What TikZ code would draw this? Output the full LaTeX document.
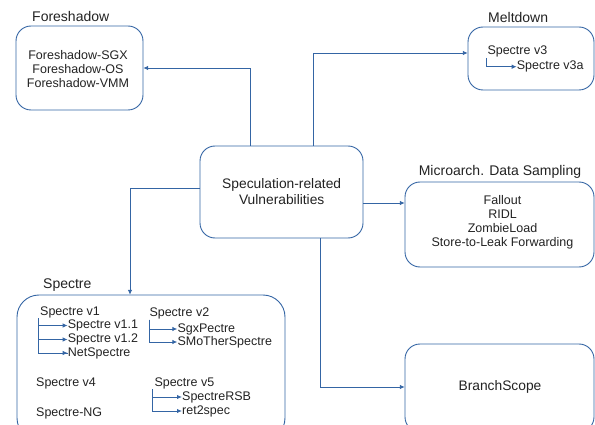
\documentclass[tikz,border=0pt]{standalone}
\usepackage{fontspec}
\setmainfont{Liberation Sans}
\usetikzlibrary{arrows.meta,positioning,calc}
\definecolor{lb}{RGB}{52,101,164}
\definecolor{tx}{RGB}{34,34,34}
\tikzset{
  box/.style={draw=lb, line width=0.9pt, rounded corners=15pt, inner sep=0pt},
  arr/.style={draw=lb, line width=0.9pt, -{Latex[length=5pt,width=4.5pt]}},
  tline/.style={draw=lb, line width=0.9pt},
  txt/.style={text=tx, inner sep=0pt, font=\fontsize{12.5}{14}\selectfont},
  big/.style={text=tx, inner sep=0pt, font=\fontsize{13.8}{16}\selectfont},
  lbl/.style={text=tx, inner sep=0pt, font=\fontsize{14}{16}\selectfont},
}
\begin{document}
\begin{tikzpicture}[x=1pt,y=-1pt]
\useasboundingbox (0,0) rectangle (595,425);
\clip (0,0) rectangle (595,425);
% boxes
\draw[box] (16,26) rectangle (143,110);
\node (fs) at (79.5,68) [minimum width=127pt, minimum height=84pt] {};
\draw[box] (468,27) rectangle (594,90);
\node (md) at (531,58.5) [minimum width=126pt, minimum height=63pt] {};
\draw[box] (200,146) rectangle (363,238);
\node (c) at (281.5,192) [minimum width=163pt, minimum height=92pt] {};
\draw[box] (405,182) rectangle (594,267);
\node (mds) at (499.5,224.5) [minimum width=189pt, minimum height=85pt] {};
\draw[box] (405,344) rectangle (594,432);
\node (bs) at (499.5,388) [minimum width=189pt, minimum height=88pt] {};
\draw[box, rounded corners=22pt] (17,295) rectangle (285,440);
\node (sp) at (151,367.5) [minimum width=268pt, minimum height=145pt] {};
% labels
\node[lbl, anchor=west] (lfs) at (32,16) {Foreshadow};
\node[lbl, anchor=west] (lmd) at (488,17) {Meltdown};
\node[lbl] (lmds) at (500,172) {Microarch. Data Sampling};
\node[lbl, anchor=west] (lsp) at (43,285) {Spectre};
% contents
\node[big, align=center] (ct) at (281.7,192) {Speculation-related\\Vulnerabilities};
\node[txt, align=center] (fst) at (78,69) {Foreshadow-SGX\\Foreshadow-OS\\Foreshadow-VMM};
\node[txt, align=center] (mdst) at (502.5,222) {Fallout\\RIDL\\ZombieLoad\\Store-to-Leak Forwarding};
\node[big] (bst) at (500,387) {BranchScope};
% meltdown inner
\node[txt, anchor=west] (v3) at (487.3,51.7) {Spectre v3};
\node[txt, anchor=west] (v3a) at (516.7,66.7) {Spectre v3a};
\coordinate (t3) at (486.7,58);
\draw[arr] (t3) |- (v3a.west);
% spectre inner
\node[txt, anchor=west] (v1) at (40,312) {Spectre v1};
\node[txt, anchor=west] (v11) at (67.7,325.5) {Spectre v1.1};
\node[txt, anchor=west] (v12) at (67.7,339.5) {Spectre v1.2};
\node[txt, anchor=west] (net) at (67.7,353) {NetSpectre};
\coordinate (t1) at (38.3,318);
\draw[tline] (t1) |- (net.west);
\draw[arr] (t1) |- (v11.west);
\draw[arr] (t1) |- (v12.west);
\draw[arr] (t1) |- (net.west);
\node[txt, anchor=west] (v2) at (149.3,313) {Spectre v2};
\node[txt, anchor=west] (sgx) at (177.3,329) {SgxPectre};
\node[txt, anchor=west] (smo) at (177.3,342) {SMoTherSpectre};
\coordinate (t2) at (149,319.5);
\draw[arr] (t2) |- (sgx.west);
\draw[arr] (t2) |- (smo.west);
\node[txt, anchor=west] (v4) at (36,383) {Spectre v4};
\node[txt, anchor=west] (ng) at (36,413) {Spectre-NG};
\node[txt, anchor=west] (v5) at (154.3,383) {Spectre v5};
\node[txt, anchor=west] (rsb) at (182,397) {SpectreRSB};
\node[txt, anchor=west] (ret) at (182,411) {ret2spec};
\coordinate (t5) at (152.7,389);
\draw[arr] (t5) |- (rsb.west);
\draw[arr] (t5) |- (ret.west);
% main connectors
\draw[arr] ([xshift=-31.5pt]c.north) |- (fs.east);
\draw[arr] ([xshift=31.5pt]c.north) |- ([yshift=5.5pt]md.west);
\draw[arr] ([yshift=4pt]c.west) -| ([xshift=-21pt]sp.north);
\draw[arr] ([yshift=-11pt]c.east) -- ([yshift=-11pt]c.east -| mds.west);
\draw[arr] ([xshift=38.5pt]c.south) |- ([yshift=1pt]bs.west);
\end{tikzpicture}
\end{document}
